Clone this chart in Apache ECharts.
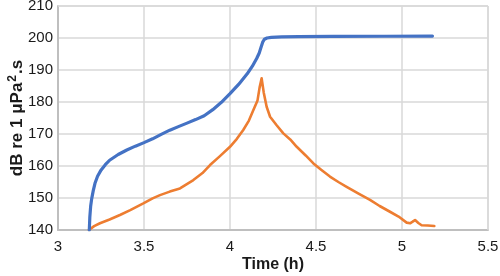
<!DOCTYPE html>
<html>
<head>
<meta charset="utf-8">
<script src="https://cdn.jsdelivr.net/npm/echarts@6/dist/echarts.min.js"></script>
<style>
  html, body { margin: 0; padding: 0; background: #fff; }
  #chart { width: 500px; height: 276px; }
</style>
</head>
<body>
<div id="chart"></div>
<script>
// cumulative SEL (blue)
const cumTime = [3.182, 3.185, 3.19, 3.196, 3.205, 3.215, 3.23, 3.25, 3.275, 3.3, 3.35, 3.4, 3.45, 3.5, 3.55, 3.6, 3.65, 3.7, 3.75, 3.8, 3.85, 3.9, 3.95, 4.0, 4.05, 4.1, 4.13, 4.155, 4.17, 4.18, 4.19, 4.2, 4.215, 4.24, 4.3, 4.4, 4.6, 4.9, 5.177];
const cumValue = [140, 144, 147.5, 149.8, 152.3, 154.6, 156.8, 158.7, 160.4, 161.8, 163.6, 165.0, 166.2, 167.3, 168.5, 169.9, 171.2, 172.3, 173.4, 174.5, 175.7, 177.6, 179.9, 182.6, 185.5, 188.8, 191.2, 193.6, 195.3, 197.0, 198.7, 199.6, 200.0, 200.2, 200.35, 200.45, 200.5, 200.55, 200.6];

// per-interval SEL (orange)
const intTime = [3.18, 3.21, 3.244, 3.3, 3.36, 3.42, 3.496, 3.55, 3.593, 3.65, 3.709, 3.787, 3.84, 3.884, 3.94, 4.0, 4.04, 4.077, 4.11, 4.136, 4.16, 4.172, 4.184, 4.196, 4.213, 4.233, 4.27, 4.31, 4.35, 4.388, 4.44, 4.485, 4.53, 4.581, 4.63, 4.678, 4.75, 4.814, 4.87, 4.93, 4.98, 5.027, 5.047, 5.062, 5.076, 5.095, 5.114, 5.15, 5.188];
const intValue = [140, 141.2, 142.1, 143.3, 144.7, 146.2, 148.3, 149.9, 150.9, 152.0, 153.0, 155.6, 157.8, 160.3, 163.0, 166.0, 168.5, 171.25, 174.2, 177.5, 180.5, 184.5, 187.4, 183.0, 178.5, 175.4, 172.8, 170.2, 168.3, 166.0, 163.3, 160.8, 158.8, 156.7, 155.0, 153.5, 151.3, 149.4, 147.5, 145.7, 144.2, 142.3, 142.1, 142.6, 143.1, 142.2, 141.5, 141.4, 141.25];

const xTicks = [3, 3.5, 4, 4.5, 5, 5.5];
const yTicks = [140, 150, 160, 170, 180, 190, 200, 210];

const chart = echarts.init(document.getElementById('chart'), null, { renderer: 'canvas' });

const gridColor = '#d9d9d9';
const axisColor = '#bfbfbf';
const fontFamily = 'Liberation Sans, Arial, sans-serif';
const labelFont = { color: '#1a1a1a', fontSize: 15, fontFamily };

const option = {
  animation: false,
  backgroundColor: '#fff',
  grid: { left: 58, right: 12, top: 6, bottom: 46, containLabel: false, outerBoundsMode: 'none' },
  xAxis: {
    type: 'value',
    min: xTicks[0],
    max: xTicks[xTicks.length - 1],
    interval: 0.5,
    name: 'Time (h)',
    nameLocation: 'middle',
    nameGap: 27,
    nameMoveOverlap: false,
    nameTextStyle: { fontSize: 16, fontWeight: 'bold', color: '#1a1a1a', fontFamily },
    axisLine: { show: true, lineStyle: { color: axisColor, width: 2 } },
    axisTick: { show: false },
    axisLabel: { ...labelFont, margin: 9 },
    splitLine: { show: true, lineStyle: { color: gridColor, width: 1.5 } }
  },
  yAxis: {
    type: 'value',
    min: yTicks[0],
    max: yTicks[yTicks.length - 1],
    interval: 10,
    name: '{m|dB re 1 μPa}{sup|2}{m|.s}',
    nameLocation: 'middle',
    nameGap: 31,
    nameMoveOverlap: false,
    nameTextStyle: {
      fontSize: 17, fontWeight: 'bold', color: '#1a1a1a', fontFamily,
      rich: {
        m: { fontSize: 17, fontWeight: 'bold', color: '#1a1a1a', fontFamily, lineHeight: 20 },
        sup: { fontSize: 12, fontWeight: 'bold', color: '#1a1a1a', fontFamily, lineHeight: 20, verticalAlign: 'top', padding: [0, 1, 0, 1] }
      }
    },
    axisLine: { show: true, lineStyle: { color: axisColor, width: 2 } },
    axisTick: { show: false },
    axisLabel: { ...labelFont, margin: 5 },
    splitLine: { show: true, lineStyle: { color: gridColor, width: 1.5 } }
  },
  series: [
    {
      name: 'cumulative',
      type: 'line',
      data: cumTime.map((t, i) => [t, cumValue[i]]),
      showSymbol: false,
      lineStyle: { color: '#4472c4', width: 3.2, join: 'round', cap: 'round' },
      z: 3
    },
    {
      name: 'interval',
      type: 'line',
      data: intTime.map((t, i) => [t, intValue[i]]),
      showSymbol: false,
      lineStyle: { color: '#ed7d31', width: 2.6, join: 'round', cap: 'round' },
      z: 2
    },
    {
      // right and top border of the plot frame
      type: 'line',
      data: [],
      markLine: {
        silent: true,
        symbol: 'none',
        label: { show: false },
        lineStyle: { color: gridColor, width: 1.5, type: 'solid' },
        data: [{ xAxis: xTicks[xTicks.length - 1] }, { yAxis: yTicks[yTicks.length - 1] }]
      }
    }
  ]
};

chart.setOption(option);
</script>
</body>
</html>
